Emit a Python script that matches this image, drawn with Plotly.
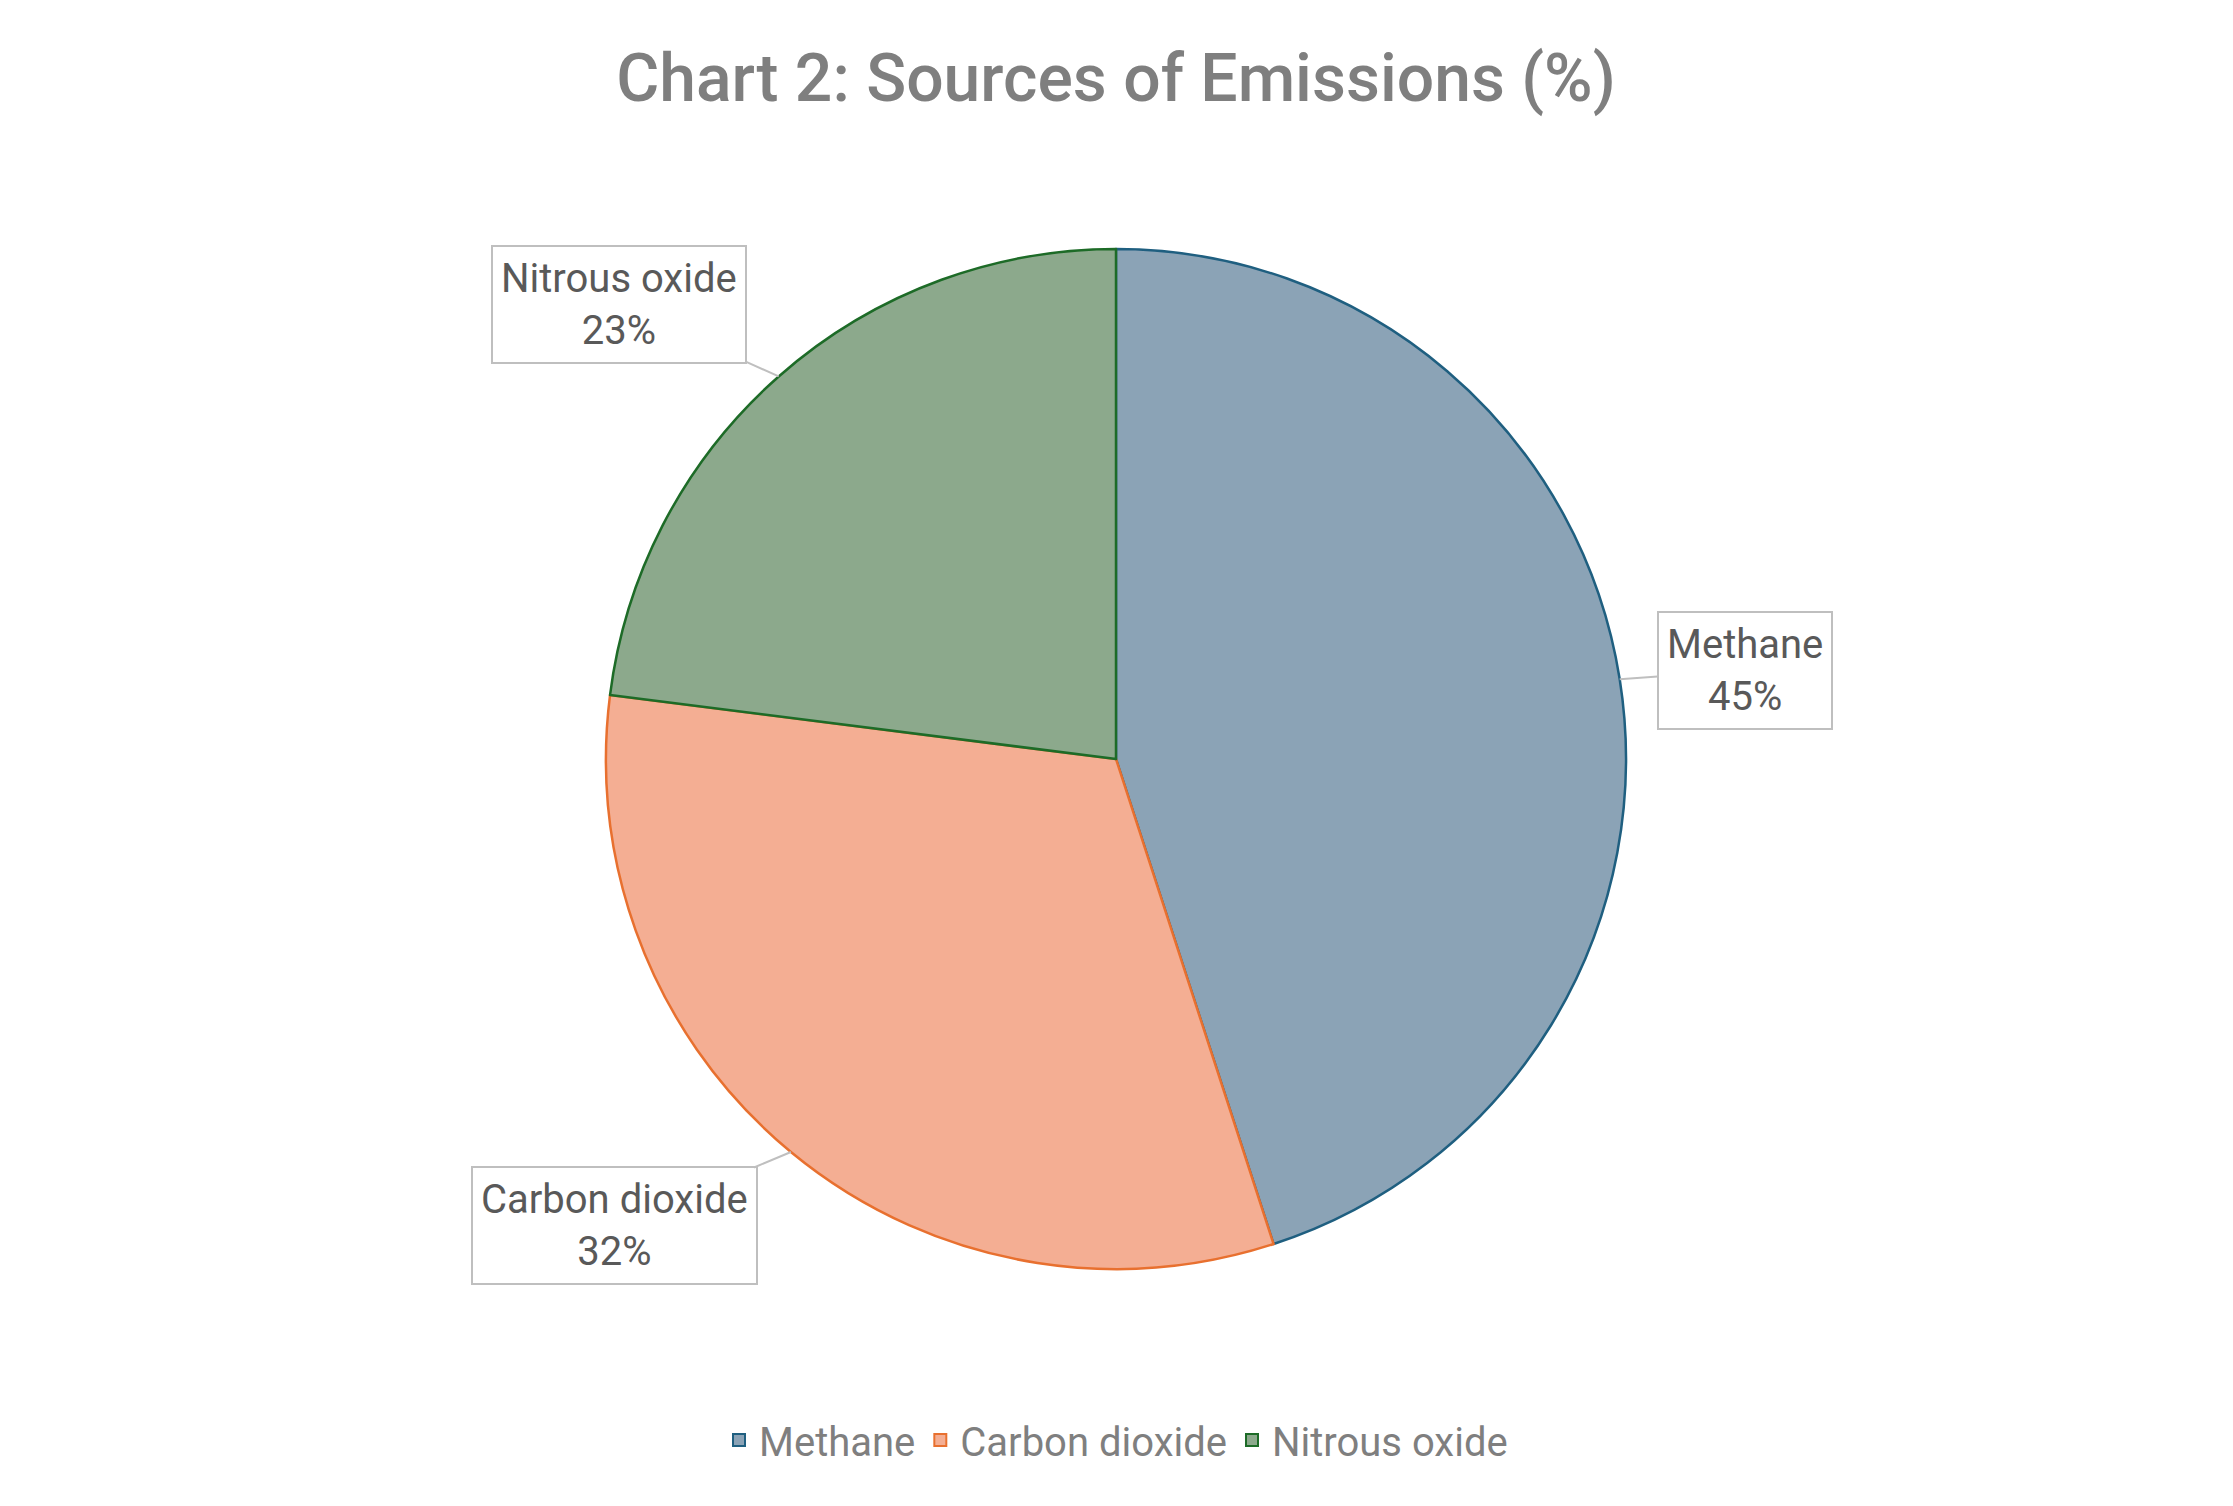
import math
import plotly.graph_objects as go

# ---- data ----
categories = ["Methane", "Carbon dioxide", "Nitrous oxide"]
values = [45, 32, 23]
label_texts = ["45%", "32%", "23%"]

# ---- style ----
W, H = 2233, 1506
fill_colors = ["#8BA3B6", "#F4AE93", "#8CA98C"]
line_colors = ["#1F5F80", "#E8702F", "#1D6B27"]
FONT = "Roboto"
SHIFT = 8  # page offset compensation (px)
# pie geometry (pixels on the canvas)
CX, CY, R = 1116 - SHIFT, 759 - SHIFT, 510
# callout box offsets from the slice edge (pixels)
offsets = [(125, -9), (-176, 74), (-160, -72)]

dom_x = [(CX - R) / W, (CX + R) / W]
dom_y = [1 - (CY + R) / H, 1 - (CY - R) / H]

fig = go.Figure()
fig.add_trace(go.Pie(
    labels=categories,
    values=values,
    sort=False,
    direction="clockwise",
    rotation=0,
    textinfo="none",
    hoverinfo="label+percent",
    marker=dict(colors=fill_colors, line=dict(color=line_colors, width=2.5)),
    domain=dict(x=dom_x, y=dom_y),
))

# callout labels placed at the middle angle of each slice
total = sum(values)
cum = 0
annotations = []
for cat, v, txt, (ox, oy) in zip(categories, values, label_texts, offsets):
    mid = (cum + v / 2) / total * 2 * math.pi
    cum += v
    px = CX + R * math.sin(mid)
    py = CY - R * math.cos(mid)
    annotations.append(dict(
        x=px / W, y=1 - py / H, xref="paper", yref="paper",
        text=f"{cat}<br>{txt}",
        showarrow=True, arrowhead=0, arrowwidth=2, arrowcolor="#BFBFBF",
        ax=ox, ay=oy,
        font=dict(family=FONT, size=40, color="#595959"),
        bordercolor="#BFBFBF", borderwidth=2, borderpad=8,
        bgcolor="#FFFFFF", align="center",
    ))

fig.update_layout(
    width=W, height=H,
    margin=dict(l=0, r=0, t=0, b=0),
    paper_bgcolor="#FFFFFF",
    plot_bgcolor="#FFFFFF",
    title=dict(
        text="Chart 2: Sources of Emissions (%)",
        x=(1116 - SHIFT) / W, xanchor="center", y=1 - (78 - SHIFT) / H, yanchor="middle",
        font=dict(family=FONT, size=66, color="#7F7F7F", weight=500),
    ),
    showlegend=True,
    legend=dict(
        orientation="h", x=(1116 - SHIFT) / W, xanchor="center",
        y=1 - (1440 - SHIFT) / H, yanchor="middle",
        font=dict(family=FONT, size=40, color="#7F7F7F"),
        itemsizing="constant",
    ),
    annotations=annotations,
)

fig.write_html("out.html")
